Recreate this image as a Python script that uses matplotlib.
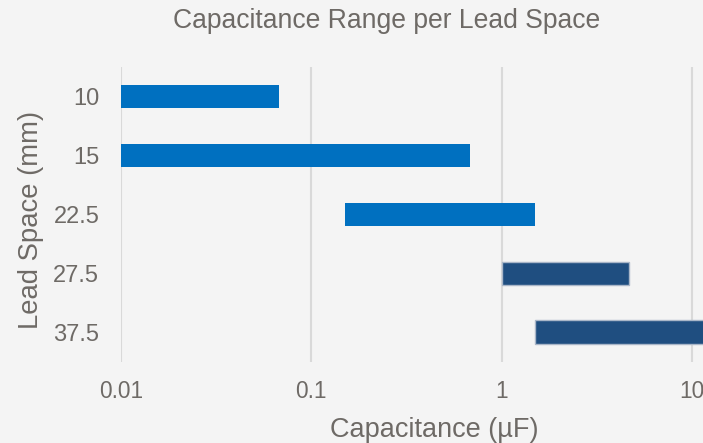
import matplotlib
matplotlib.use("Agg")
import matplotlib.pyplot as plt

# data
lead_space = ["10", "15", "22.5", "27.5", "37.5"]
cap_min = [0.01, 0.01, 0.15, 1.0, 1.5]
cap_max = [0.068, 0.68, 1.5, 4.7, 22.0]
colors = ["#0070C0", "#0070C0", "#0070C0", "#1F4E80", "#1F4E80"]
edges = ["none", "none", "none", "#A9B6C8", "#A9B6C8"]
xticks = [0.01, 0.1, 1, 10]
xtick_labels = ["0.01", "0.1", "1", "10"]

plt.rcParams["font.family"] = ["Liberation Sans", "DejaVu Sans"]
txt = "#6E6A66"
bg = "#F4F4F4"

fig = plt.figure(figsize=(7.03, 4.43), dpi=100, facecolor=bg)
# plot area runs past the right edge of the picture (the original was cropped)
ax = fig.add_axes([0.1721, 0.1835, 0.8905, 0.6653], facecolor=bg)

ypos = list(range(len(lead_space)))
widths = [hi - lo for lo, hi in zip(cap_min, cap_max)]
ax.barh(ypos, widths, left=cap_min, height=0.4, color=colors,
        edgecolor=edges, linewidth=1, zorder=3)

ax.set_xscale("log")
ax.set_xlim(0.01, 19.5)
ax.set_ylim(4.5, -0.5)
ax.set_xticks(xticks)
ax.set_xticklabels(xtick_labels)
ax.minorticks_off()
ax.set_yticks(ypos)
ax.set_yticklabels(lead_space)
ax.tick_params(length=0, colors=txt)
ax.tick_params(axis="x", labelsize=16.3, pad=13)
ax.tick_params(axis="y", labelsize=17, pad=15.6)
ax.xaxis.grid(True, color="#D9D9D9", linewidth=1.5, zorder=0)
for s in ax.spines.values():
    s.set_visible(False)

fig.text(0.6174, 0.0142, "Capacitance (µF)", fontsize=19.5, color=txt,
         ha="center", va="baseline")
fig.text(0.0448, 0.5034, "Lead Space (mm)", fontsize=19.8, color=txt,
         ha="center", va="center", rotation=90)
fig.text(0.5505, 0.936, "Capacitance Range per Lead Space", fontsize=19.1,
         color=txt, ha="center", va="baseline")

fig.savefig("out.png", dpi=100, facecolor=bg)
